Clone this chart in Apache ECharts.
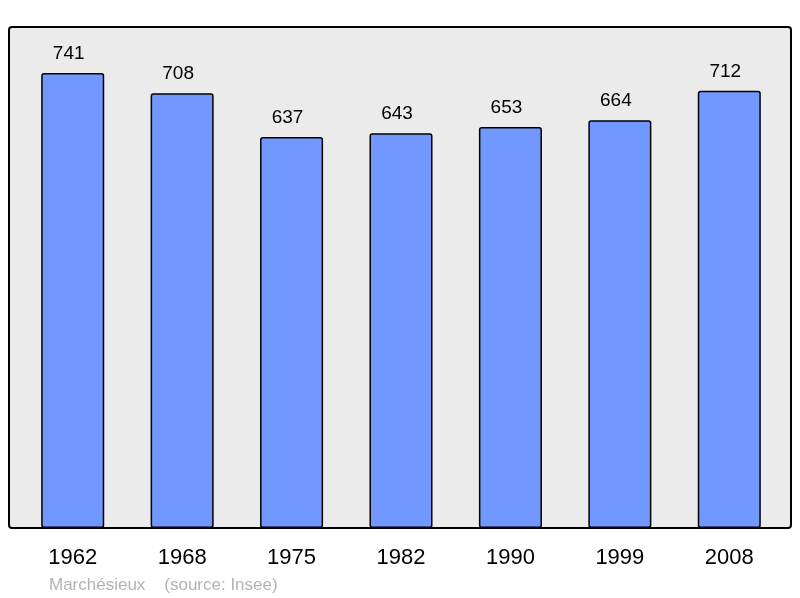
<!DOCTYPE html>
<html>
<head>
<meta charset="utf-8">
<script src="https://cdn.jsdelivr.net/npm/echarts@6/dist/echarts.min.js"></script>
<style>
  html, body { margin: 0; padding: 0; background: #fff; }
  #chart { width: 800px; height: 598px; }
</style>
</head>
<body>
<div id="chart"></div>
<script>
var years = ['1962', '1968', '1975', '1982', '1990', '1999', '2008'];
var population = [741, 708, 637, 643, 653, 664, 712];

var chart = echarts.init(document.getElementById('chart'));

var option = {
  animation: false,
  grid: {
    left: 18,
    right: 16,
    top: 27,
    bottom: 70
  },
  graphic: [{
    type: 'rect',
    z: -1,
    shape: { x: 9, y: 27, width: 782, height: 501, r: 3 },
    style: { fill: '#ebebeb', stroke: '#000', lineWidth: 2 }
  }, {
    type: 'text',
    left: 49,
    top: 577,
    style: {
      text: 'Marchésieux    (source: Insee)',
      fill: '#b3b3b3',
      fontSize: 17,
      fontFamily: 'Liberation Sans'
    }
  }],
  xAxis: {
    type: 'category',
    data: years,
    axisLine: { show: false },
    axisTick: { show: false },
    axisLabel: {
      color: '#000',
      fontSize: 22,
      fontFamily: 'Liberation Sans',
      margin: 19
    }
  },
  yAxis: {
    type: 'value',
    min: 0,
    max: 816,
    show: false,
    splitLine: { show: false }
  },
  series: [{
    name: 'Population',
    type: 'bar',
    data: population,
    barWidth: '57.6%',
    itemStyle: {
      color: '#7098ff',
      borderColor: '#000',
      borderWidth: 1.5,
      borderRadius: 2
    },
    label: {
      show: true,
      position: 'top',
      distance: 10,
      offset: [-4, 0],
      color: '#000',
      fontSize: 19,
      fontFamily: 'Liberation Sans'
    }
  }]
};

chart.setOption(option);
</script>
</body>
</html>
